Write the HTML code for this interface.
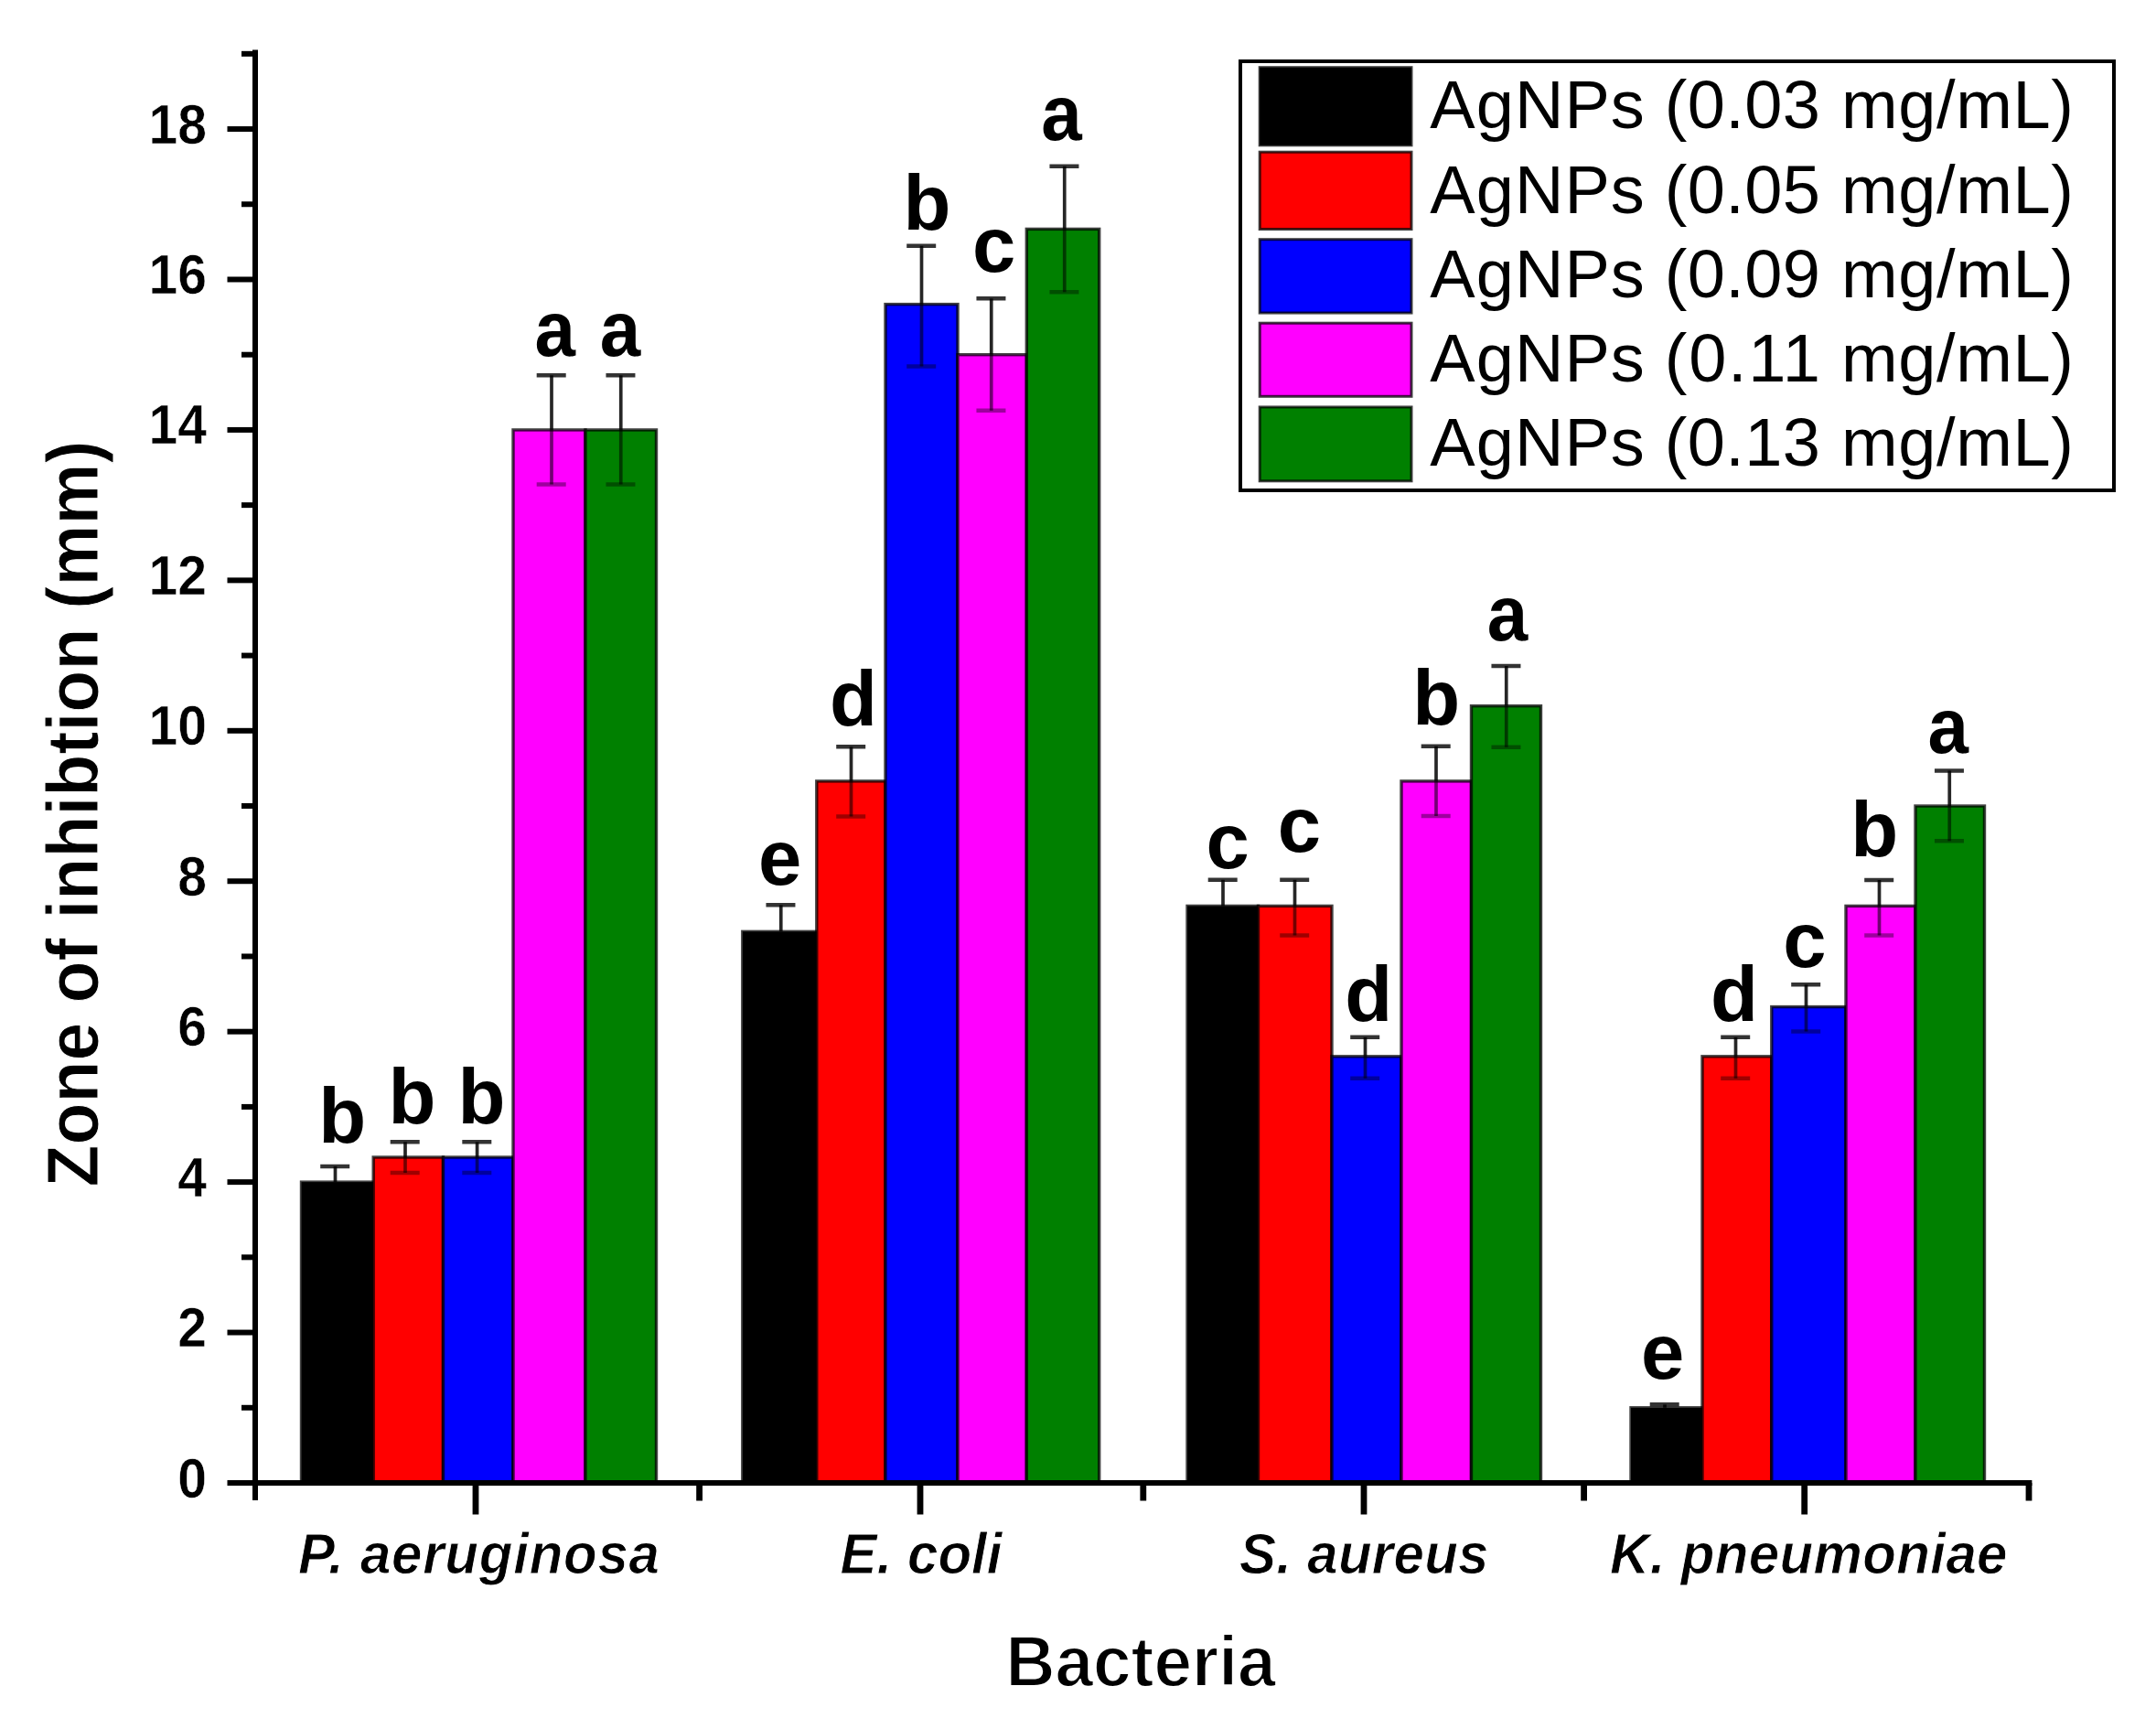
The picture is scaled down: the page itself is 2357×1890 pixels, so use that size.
<!DOCTYPE html>
<html lang="en"><head><meta charset="utf-8"><title>Zone of inhibition</title>
<style>html,body{margin:0;padding:0;background:#fff;}body{width:2357px;height:1890px;overflow:hidden;}svg{display:block;}text{font-family:"Liberation Sans", sans-serif;fill:#000;}</style></head><body>
<svg width="2357" height="1890" viewBox="0 0 2357 1890">
<rect x="0" y="0" width="2357" height="1890" fill="#fff"/>
<g id="bars" stroke="#000" stroke-opacity="0.74" stroke-width="3.4">
<rect x="329.50" y="1292.12" width="78.70" height="328.88" fill="#000000"/>
<rect x="408.20" y="1264.99" width="76.30" height="356.01" fill="#ff0000"/>
<rect x="484.50" y="1264.99" width="76.50" height="356.01" fill="#0000ff"/>
<rect x="561.00" y="469.92" width="79.00" height="1151.08" fill="#ff00ff"/>
<rect x="640.00" y="469.92" width="77.50" height="1151.08" fill="#008000"/>
<rect x="811.80" y="1018.33" width="81.00" height="602.67" fill="#000000"/>
<rect x="892.80" y="853.89" width="75.20" height="767.11" fill="#ff0000"/>
<rect x="968.00" y="332.61" width="79.00" height="1288.39" fill="#0000ff"/>
<rect x="1047.00" y="387.70" width="75.30" height="1233.30" fill="#ff00ff"/>
<rect x="1122.30" y="250.39" width="79.40" height="1370.61" fill="#008000"/>
<rect x="1298.00" y="990.37" width="77.50" height="630.63" fill="#000000"/>
<rect x="1375.50" y="990.37" width="80.50" height="630.63" fill="#ff0000"/>
<rect x="1456.00" y="1154.81" width="76.00" height="466.19" fill="#0000ff"/>
<rect x="1532.00" y="853.89" width="76.50" height="767.11" fill="#ff00ff"/>
<rect x="1608.50" y="771.67" width="76.00" height="849.33" fill="#008000"/>
<rect x="1783.00" y="1538.78" width="78.00" height="82.22" fill="#000000"/>
<rect x="1861.00" y="1154.81" width="75.80" height="466.19" fill="#ff0000"/>
<rect x="1936.80" y="1100.55" width="81.20" height="520.45" fill="#0000ff"/>
<rect x="2018.00" y="990.37" width="76.00" height="630.63" fill="#ff00ff"/>
<rect x="2094.00" y="881.02" width="75.50" height="739.98" fill="#008000"/>
</g>
<g id="errors" stroke="#000" fill="none">
<path d="M366.50 1275.00V1292.12" stroke-width="3.7" stroke-opacity="0.85"/>
<path d="M350.20 1275.00h32" stroke-width="4.4" stroke-opacity="0.8"/>
<path d="M443.00 1248.30V1264.99" stroke-width="3.7" stroke-opacity="0.85"/>
<path d="M426.70 1248.30h32" stroke-width="4.4" stroke-opacity="0.8"/>
<path d="M443.00 1264.99V1282.00" stroke-width="3.7" stroke-opacity="0.55"/>
<path d="M426.70 1282.00h32" stroke-width="4.4" stroke-opacity="0.38"/>
<path d="M521.60 1248.30V1264.99" stroke-width="3.7" stroke-opacity="0.85"/>
<path d="M505.30 1248.30h32" stroke-width="4.4" stroke-opacity="0.8"/>
<path d="M521.60 1264.99V1282.00" stroke-width="3.7" stroke-opacity="0.55"/>
<path d="M505.30 1282.00h32" stroke-width="4.4" stroke-opacity="0.38"/>
<path d="M603.00 410.30V469.92" stroke-width="3.7" stroke-opacity="0.85"/>
<path d="M586.70 410.30h32" stroke-width="4.4" stroke-opacity="0.8"/>
<path d="M603.00 469.92V529.50" stroke-width="3.7" stroke-opacity="0.55"/>
<path d="M586.70 529.50h32" stroke-width="4.4" stroke-opacity="0.38"/>
<path d="M678.75 410.30V469.92" stroke-width="3.7" stroke-opacity="0.85"/>
<path d="M662.45 410.30h32" stroke-width="4.4" stroke-opacity="0.8"/>
<path d="M678.75 469.92V529.50" stroke-width="3.7" stroke-opacity="0.55"/>
<path d="M662.45 529.50h32" stroke-width="4.4" stroke-opacity="0.38"/>
<path d="M853.75 989.30V1018.33" stroke-width="3.7" stroke-opacity="0.85"/>
<path d="M837.45 989.30h32" stroke-width="4.4" stroke-opacity="0.8"/>
<path d="M930.50 816.30V853.89" stroke-width="3.7" stroke-opacity="0.85"/>
<path d="M914.20 816.30h32" stroke-width="4.4" stroke-opacity="0.8"/>
<path d="M930.50 853.89V892.50" stroke-width="3.7" stroke-opacity="0.55"/>
<path d="M914.20 892.50h32" stroke-width="4.4" stroke-opacity="0.38"/>
<path d="M1007.50 268.80V332.61" stroke-width="3.7" stroke-opacity="0.85"/>
<path d="M991.20 268.80h32" stroke-width="4.4" stroke-opacity="0.8"/>
<path d="M1007.50 332.61V400.50" stroke-width="3.7" stroke-opacity="0.55"/>
<path d="M991.20 400.50h32" stroke-width="4.4" stroke-opacity="0.38"/>
<path d="M1083.75 326.30V387.70" stroke-width="3.7" stroke-opacity="0.85"/>
<path d="M1067.45 326.30h32" stroke-width="4.4" stroke-opacity="0.8"/>
<path d="M1083.75 387.70V448.80" stroke-width="3.7" stroke-opacity="0.55"/>
<path d="M1067.45 448.80h32" stroke-width="4.4" stroke-opacity="0.38"/>
<path d="M1163.75 181.80V250.39" stroke-width="3.7" stroke-opacity="0.85"/>
<path d="M1147.45 181.80h32" stroke-width="4.4" stroke-opacity="0.8"/>
<path d="M1163.75 250.39V319.30" stroke-width="3.7" stroke-opacity="0.55"/>
<path d="M1147.45 319.30h32" stroke-width="4.4" stroke-opacity="0.38"/>
<path d="M1337.00 961.80V990.37" stroke-width="3.7" stroke-opacity="0.85"/>
<path d="M1320.70 961.80h32" stroke-width="4.4" stroke-opacity="0.8"/>
<path d="M1415.50 961.80V990.37" stroke-width="3.7" stroke-opacity="0.85"/>
<path d="M1399.20 961.80h32" stroke-width="4.4" stroke-opacity="0.8"/>
<path d="M1415.50 990.37V1022.50" stroke-width="3.7" stroke-opacity="0.55"/>
<path d="M1399.20 1022.50h32" stroke-width="4.4" stroke-opacity="0.38"/>
<path d="M1492.50 1133.80V1154.81" stroke-width="3.7" stroke-opacity="0.85"/>
<path d="M1476.20 1133.80h32" stroke-width="4.4" stroke-opacity="0.8"/>
<path d="M1492.50 1154.81V1178.80" stroke-width="3.7" stroke-opacity="0.55"/>
<path d="M1476.20 1178.80h32" stroke-width="4.4" stroke-opacity="0.38"/>
<path d="M1570.00 815.80V853.89" stroke-width="3.7" stroke-opacity="0.85"/>
<path d="M1553.70 815.80h32" stroke-width="4.4" stroke-opacity="0.8"/>
<path d="M1570.00 853.89V892.00" stroke-width="3.7" stroke-opacity="0.55"/>
<path d="M1553.70 892.00h32" stroke-width="4.4" stroke-opacity="0.38"/>
<path d="M1646.75 728.00V771.67" stroke-width="3.7" stroke-opacity="0.85"/>
<path d="M1630.45 728.00h32" stroke-width="4.4" stroke-opacity="0.8"/>
<path d="M1646.75 771.67V816.80" stroke-width="3.7" stroke-opacity="0.55"/>
<path d="M1630.45 816.80h32" stroke-width="4.4" stroke-opacity="0.38"/>
<path d="M1820.00 1535.30V1538.78" stroke-width="3.7" stroke-opacity="0.85"/>
<path d="M1803.70 1535.30h32" stroke-width="4.4" stroke-opacity="0.8"/>
<path d="M1897.50 1133.80V1154.81" stroke-width="3.7" stroke-opacity="0.85"/>
<path d="M1881.20 1133.80h32" stroke-width="4.4" stroke-opacity="0.8"/>
<path d="M1897.50 1154.81V1178.80" stroke-width="3.7" stroke-opacity="0.55"/>
<path d="M1881.20 1178.80h32" stroke-width="4.4" stroke-opacity="0.38"/>
<path d="M1974.50 1076.30V1100.55" stroke-width="3.7" stroke-opacity="0.85"/>
<path d="M1958.20 1076.30h32" stroke-width="4.4" stroke-opacity="0.8"/>
<path d="M1974.50 1100.55V1127.50" stroke-width="3.7" stroke-opacity="0.55"/>
<path d="M1958.20 1127.50h32" stroke-width="4.4" stroke-opacity="0.38"/>
<path d="M2054.50 962.00V990.37" stroke-width="3.7" stroke-opacity="0.85"/>
<path d="M2038.20 962.00h32" stroke-width="4.4" stroke-opacity="0.8"/>
<path d="M2054.50 990.37V1022.50" stroke-width="3.7" stroke-opacity="0.55"/>
<path d="M2038.20 1022.50h32" stroke-width="4.4" stroke-opacity="0.38"/>
<path d="M2131.25 842.50V881.02" stroke-width="3.7" stroke-opacity="0.85"/>
<path d="M2114.95 842.50h32" stroke-width="4.4" stroke-opacity="0.8"/>
<path d="M2131.25 881.02V919.30" stroke-width="3.7" stroke-opacity="0.55"/>
<path d="M2114.95 919.30h32" stroke-width="4.4" stroke-opacity="0.38"/>
</g>
<g id="axes" stroke="#000" stroke-width="6" fill="none">
<path d="M279 54.5V1640"/>
<path d="M248.5 1621H2221.4"/>
<path d="M264 1538.78H279"/>
<path d="M248.5 1456.56H279"/>
<path d="M264 1374.34H279"/>
<path d="M248.5 1292.12H279"/>
<path d="M264 1209.90H279"/>
<path d="M248.5 1127.68H279"/>
<path d="M264 1045.46H279"/>
<path d="M248.5 963.24H279"/>
<path d="M264 881.02H279"/>
<path d="M248.5 798.80H279"/>
<path d="M264 716.58H279"/>
<path d="M248.5 634.36H279"/>
<path d="M264 552.14H279"/>
<path d="M248.5 469.92H279"/>
<path d="M264 387.70H279"/>
<path d="M248.5 305.48H279"/>
<path d="M264 223.26H279"/>
<path d="M248.5 141.04H279"/>
<path d="M264 58.82H279"/>
<path d="M520.0 1621V1655.5" stroke-width="6.8"/>
<path d="M1006.0 1621V1655.5" stroke-width="6.8"/>
<path d="M1491.0 1621V1655.5" stroke-width="6.8"/>
<path d="M1972.7 1621V1655.5" stroke-width="6.8"/>
<path d="M764.6 1621V1640.5" stroke-width="6.8"/>
<path d="M1249.8 1621V1640.5" stroke-width="6.8"/>
<path d="M1731.6 1621V1640.5" stroke-width="6.8"/>
<path d="M2218.0 1621V1640.5" stroke-width="6.8"/>
</g>
<g id="yticks" font-size="56" font-weight="bold" text-anchor="end" stroke="#fff" stroke-width="0.5">
<text transform="translate(226 1636.5) scale(1.02 1.08)">0</text>
<text transform="translate(226 1472.1) scale(1.02 1.08)">2</text>
<text transform="translate(226 1307.6) scale(1.02 1.08)">4</text>
<text transform="translate(226 1143.2) scale(1.02 1.08)">6</text>
<text transform="translate(226 978.7) scale(1.02 1.08)">8</text>
<text transform="translate(226 814.3) scale(1.02 1.08)">10</text>
<text transform="translate(226 649.9) scale(1.02 1.08)">12</text>
<text transform="translate(226 485.4) scale(1.02 1.08)">14</text>
<text transform="translate(226 321.0) scale(1.02 1.08)">16</text>
<text transform="translate(226 156.5) scale(1.02 1.08)">18</text>
</g>
<g id="letters" font-size="85" font-weight="bold">
<text x="348.25" y="1248.70">b</text>
<text x="424.50" y="1227.50">b</text>
<text x="500.50" y="1227.50">b</text>
<text transform="translate(584.51 389.30) scale(0.94 1.01)">a</text>
<text transform="translate(655.76 389.30) scale(0.94 1.01)">a</text>
<text x="829.03" y="966.70">e</text>
<text x="907.12" y="792.50">d</text>
<text x="987.50" y="250.50">b</text>
<text x="1063.03" y="296.70">c</text>
<text transform="translate(1138.26 152.50) scale(0.94 1.01)">a</text>
<text x="1318.53" y="949.20">c</text>
<text x="1396.78" y="930.50">c</text>
<text x="1470.37" y="1115.50">d</text>
<text x="1544.25" y="791.70">b</text>
<text transform="translate(1625.76 700.00) scale(0.94 1.01)">a</text>
<text x="1793.98" y="1507.00">e</text>
<text x="1870.12" y="1115.50">d</text>
<text x="1949.28" y="1056.70">c</text>
<text x="2023.25" y="935.50">b</text>
<text transform="translate(2107.51 822.50) scale(0.94 1.01)">a</text>
</g>
<g id="xcats" font-size="60" font-weight="bold" font-style="italic" stroke="#fff" stroke-width="0.9">
<text transform="translate(326.0 1719.5) scale(1 1.06)" textLength="395.0" lengthAdjust="spacing">P. aeruginosa</text>
<text transform="translate(918.5 1719.5) scale(1 1.06)" textLength="177.0" lengthAdjust="spacing">E. coli</text>
<text transform="translate(1355.0 1719.5) scale(1 1.06)" textLength="272.5" lengthAdjust="spacing">S. aureus</text>
<text transform="translate(1760.0 1719.5) scale(1 1.06)" textLength="434.5" lengthAdjust="spacing">K. pneumoniae</text>
</g>
<text id="xtitle" x="1099.5" y="1842.5" font-size="77" font-weight="bold" stroke="#fff" stroke-width="1.8" textLength="295" lengthAdjust="spacingAndGlyphs">Bacteria</text>
<text id="ytitle" transform="translate(106.5 1297.5) rotate(-90)" font-size="80" font-weight="bold" stroke="#fff" stroke-width="1.0" textLength="816" lengthAdjust="spacingAndGlyphs">Zone of inhibtion (mm)</text>
<g id="legend">
<rect x="1356" y="67" width="955" height="469" fill="#fff" stroke="#000" stroke-width="4"/>
<rect x="1377.2" y="73.70" width="165.8" height="85.10" fill="#000000" stroke="#000" stroke-opacity="0.75" stroke-width="3"/>
<text y="140.0" font-size="74"><tspan x="1563.3" textLength="234.5" lengthAdjust="spacing">AgNPs</tspan> <tspan x="1819.8" textLength="170" lengthAdjust="spacing">(0.03</tspan> <tspan x="2013" textLength="254" lengthAdjust="spacing">mg/mL)</tspan></text>
<rect x="1377.2" y="166.20" width="165.8" height="84.35" fill="#ff0000" stroke="#000" stroke-opacity="0.75" stroke-width="3"/>
<text y="232.5" font-size="74"><tspan x="1563.3" textLength="234.5" lengthAdjust="spacing">AgNPs</tspan> <tspan x="1819.8" textLength="170" lengthAdjust="spacing">(0.05</tspan> <tspan x="2013" textLength="254" lengthAdjust="spacing">mg/mL)</tspan></text>
<rect x="1377.2" y="261.70" width="165.8" height="80.35" fill="#0000ff" stroke="#000" stroke-opacity="0.75" stroke-width="3"/>
<text y="324.5" font-size="74"><tspan x="1563.3" textLength="234.5" lengthAdjust="spacing">AgNPs</tspan> <tspan x="1819.8" textLength="170" lengthAdjust="spacing">(0.09</tspan> <tspan x="2013" textLength="254" lengthAdjust="spacing">mg/mL)</tspan></text>
<rect x="1377.2" y="353.20" width="165.8" height="80.10" fill="#ff00ff" stroke="#000" stroke-opacity="0.75" stroke-width="3"/>
<text y="417.0" font-size="74"><tspan x="1563.3" textLength="234.5" lengthAdjust="spacing">AgNPs</tspan> <tspan x="1819.8" textLength="170" lengthAdjust="spacing">(0.11</tspan> <tspan x="2013" textLength="254" lengthAdjust="spacing">mg/mL)</tspan></text>
<rect x="1377.2" y="444.95" width="165.8" height="80.85" fill="#008000" stroke="#000" stroke-opacity="0.75" stroke-width="3"/>
<text y="508.8" font-size="74"><tspan x="1563.3" textLength="234.5" lengthAdjust="spacing">AgNPs</tspan> <tspan x="1819.8" textLength="170" lengthAdjust="spacing">(0.13</tspan> <tspan x="2013" textLength="254" lengthAdjust="spacing">mg/mL)</tspan></text>
</g>
</svg></body></html>
